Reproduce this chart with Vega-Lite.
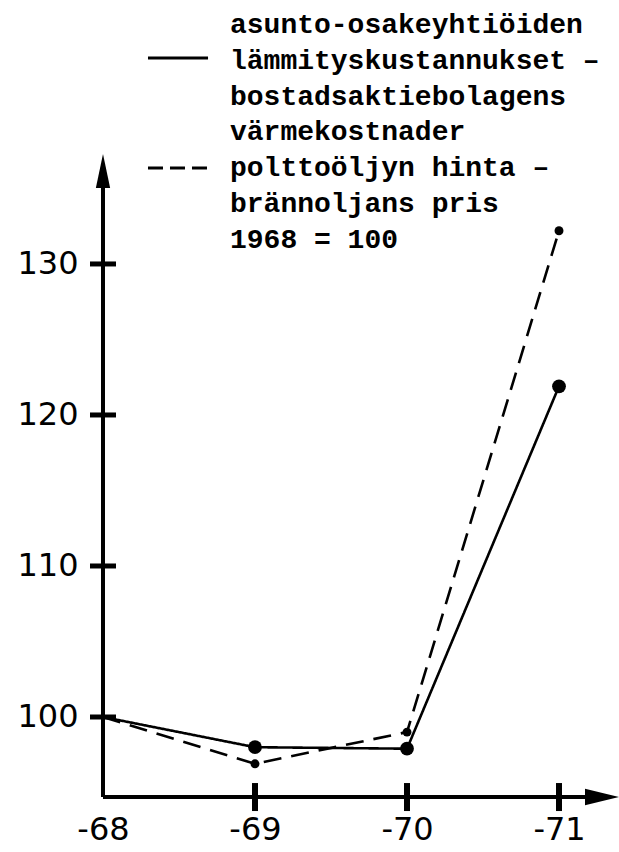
{
  "$schema": "https://vega.github.io/schema/vega-lite/v6.json",
  "width": 619,
  "height": 852,
  "autosize": {"type": "none"},
  "padding": 0,
  "background": "white",
  "config": {"view": {"stroke": null}, "font": "DejaVu Sans"},
  "datasets": {
    "series": [
      {"series": "lämmityskustannukset", "year": 1968, "index": 100},
      {"series": "lämmityskustannukset", "year": 1969, "index": 98.0},
      {"series": "lämmityskustannukset", "year": 1970, "index": 97.9},
      {"series": "lämmityskustannukset", "year": 1971, "index": 121.9},
      {"series": "polttoöljyn hinta", "year": 1968, "index": 100},
      {"series": "polttoöljyn hinta", "year": 1969, "index": 96.9},
      {"series": "polttoöljyn hinta", "year": 1970, "index": 99.0},
      {"series": "polttoöljyn hinta", "year": 1971, "index": 132.2}
    ],
    "one": [{}],
    "yticks": [{"v": 100}, {"v": 110}, {"v": 120}, {"v": 130}],
    "xticks": [{"t": 1969}, {"t": 1970}, {"t": 1971}]
  },
  "layer": [
    {
      "data": {"name": "series"},
      "mark": {"type": "line", "color": "black", "strokeWidth": 2.6},
      "encoding": {
        "x": {
          "field": "year", "type": "quantitative",
          "scale": {"domain": [1967.3224, 1971.3947], "nice": false, "zero": false},
          "axis": {
            "orient": "bottom", "offset": -55, "values": [1968, 1969, 1970, 1971],
            "labelExpr": "'-' + (datum.value - 1900)",
            "domain": false, "ticks": false, "grid": false,
            "labelFontSize": 32, "labelPadding": 17, "labelColor": "black",
            "labelFont": "DejaVu Sans", "labelFlush": false, "labelOverlap": false, "title": null
          }
        },
        "y": {
          "field": "index", "type": "quantitative",
          "scale": {"domain": [91.06, 147.48], "nice": false, "zero": false},
          "axis": {
            "orient": "left", "offset": -103, "values": [100, 110, 120, 130],
            "domain": false, "ticks": false, "grid": false,
            "labelFontSize": 32, "labelPadding": 25, "labelColor": "black",
            "labelFont": "DejaVu Sans", "labelFlush": false, "labelOverlap": false, "title": null
          }
        },
        "strokeDash": {
          "field": "series", "type": "nominal",
          "scale": {"domain": ["lämmityskustannukset", "polttoöljyn hinta"], "range": [[1, 0], [18, 10]]},
          "legend": null
        }
      }
    },
    {
      "data": {"name": "series"},
      "transform": [{"filter": "datum.year > 1968"}],
      "mark": {"type": "point", "filled": true, "color": "black", "opacity": 1},
      "encoding": {
        "x": {"field": "year", "type": "quantitative"},
        "y": {"field": "index", "type": "quantitative"},
        "size": {
          "field": "series", "type": "nominal",
          "scale": {"domain": ["lämmityskustannukset", "polttoöljyn hinta"], "range": [190, 80]},
          "legend": null
        }
      }
    },
    {
      "data": {"name": "one"},
      "mark": {"type": "rule", "color": "black", "strokeWidth": 4},
      "encoding": {
        "x": {"datum": 1968, "type": "quantitative"},
        "y": {"datum": 94.7, "type": "quantitative"},
        "y2": {"datum": 136.16}
      }
    },
    {
      "data": {"name": "one"},
      "mark": {"type": "rule", "color": "black", "strokeWidth": 4},
      "encoding": {
        "x": {"datum": 1968, "type": "quantitative"},
        "x2": {"datum": 1971.2},
        "y": {"datum": 94.7, "type": "quantitative"}
      }
    },
    {
      "data": {"name": "one"},
      "mark": {"type": "point", "filled": true, "color": "black", "opacity": 1, "size": 1156, "shape": "M0,-1L0.42,1L-0.42,1Z"},
      "encoding": {
        "x": {"datum": 1968, "type": "quantitative"},
        "y": {"datum": 136.16, "type": "quantitative"}
      }
    },
    {
      "data": {"name": "one"},
      "mark": {"type": "point", "filled": true, "color": "black", "opacity": 1, "size": 1156, "shape": "M1,0L-1,-0.48L-1,0.48Z"},
      "encoding": {
        "x": {"datum": 1971.283, "type": "quantitative"},
        "y": {"datum": 94.7, "type": "quantitative"}
      }
    },
    {
      "data": {"name": "yticks"},
      "mark": {"type": "tick", "orient": "horizontal", "color": "black", "size": 26, "thickness": 5, "opacity": 1},
      "encoding": {
        "x": {"datum": 1968, "type": "quantitative"},
        "y": {"field": "v", "type": "quantitative"}
      }
    },
    {
      "data": {"name": "xticks"},
      "mark": {"type": "tick", "orient": "vertical", "color": "black", "size": 28, "thickness": 6, "opacity": 1},
      "encoding": {
        "x": {"field": "t", "type": "quantitative"},
        "y": {"datum": 94.7, "type": "quantitative"}
      }
    },
    {
      "data": {"name": "one"},
      "mark": {"type": "rule", "color": "black", "strokeWidth": 3},
      "encoding": {
        "x": {"datum": 1968.296, "type": "quantitative"},
        "x2": {"datum": 1968.691},
        "y": {"datum": 143.64, "type": "quantitative"}
      }
    },
    {
      "data": {"name": "one"},
      "mark": {"type": "rule", "color": "black", "strokeWidth": 3, "strokeDash": [15, 7]},
      "encoding": {
        "x": {"datum": 1968.296, "type": "quantitative"},
        "x2": {"datum": 1968.691},
        "y": {"datum": 136.355, "type": "quantitative"}
      }
    },
    {
      "data": {"name": "one"},
      "mark": {
        "type": "text", "align": "left", "baseline": "alphabetic",
        "font": "Liberation Mono", "fontSize": 28, "fontWeight": "bold", "color": "black",
        "lineHeight": 35.8,
        "text": ["asunto-osakeyhtiöiden", "lämmityskustannukset –", "bostadsaktiebolagens", "värmekostnader", "polttoöljyn hinta –", "brännoljans pris", "1968 = 100"]
      },
      "encoding": {
        "x": {"datum": 1968.8355, "type": "quantitative"},
        "y": {"datum": 145.295, "type": "quantitative"}
      }
    }
  ]
}
